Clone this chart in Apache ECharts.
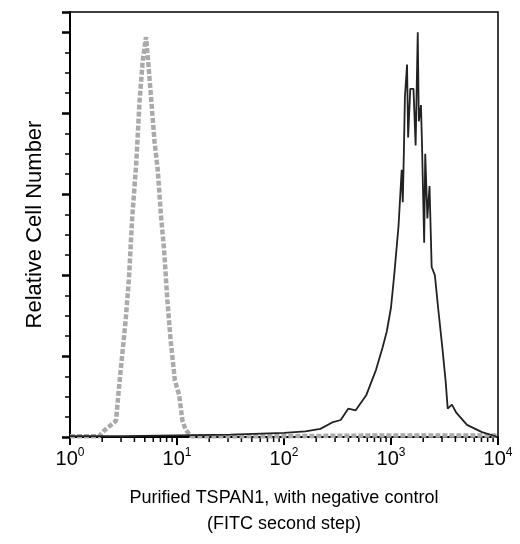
<!DOCTYPE html>
<html><head><meta charset="utf-8">
<script src="https://cdn.jsdelivr.net/npm/echarts@6/dist/echarts.min.js"></script>
<style>html,body{margin:0;padding:0;background:#fff}#c{width:520px;height:544px}</style>
</head><body><div id="c"></div>
<script>
// x values are log10 of fluorescence intensity
const xTickLabels = [0, 1, 2, 3, 4];
const controlX = [0, 0.27, 0.32, 0.43, 0.46, 0.52, 0.55, 0.58, 0.62, 0.65, 0.68, 0.71, 0.73, 0.76, 0.79, 0.82, 0.85, 0.88, 0.91, 0.94, 0.98, 1.02, 1.05, 1.08, 1.13, 1.3, 2, 3, 4];
const controlY = [0.01, 0.01, 0.08, 0.2, 0.64, 1.44, 1.94, 2.68, 3.4, 4.15, 4.65, 4.94, 4.65, 4.15, 3.65, 3.3, 2.74, 2.3, 1.69, 1.2, 0.7, 0.52, 0.21, 0.09, 0.01, 0.01, 0.01, 0.02, 0.02];
const sampleX = [0, 0.5, 1, 1.5, 2, 2.2, 2.34, 2.45, 2.53, 2.6, 2.67, 2.77, 2.86, 2.92, 2.96, 3.0, 3.03, 3.07, 3.1, 3.11, 3.12, 3.13, 3.15, 3.16, 3.18, 3.21, 3.23, 3.25, 3.26, 3.28, 3.29, 3.31, 3.32, 3.34, 3.36, 3.38, 3.41, 3.44, 3.48, 3.51, 3.53, 3.57, 3.61, 3.71, 3.85, 4];
const sampleY = [0.01, 0.01, 0.02, 0.03, 0.05, 0.07, 0.1, 0.18, 0.21, 0.35, 0.33, 0.52, 0.83, 1.1, 1.3, 1.6, 2.0, 2.6, 3.3, 2.9, 3.5, 4.2, 4.6, 3.7, 4.3, 4.3, 3.6, 5.0, 3.9, 4.1, 3.6, 2.4, 3.5, 2.7, 3.1, 2.1, 2.0, 1.6, 1.1, 0.7, 0.35, 0.4, 0.3, 0.15, 0.06, 0.0];
const minorX = [];
for (let n = 0; n < 4; n++) for (let k = 2; k <= 9; k++) minorX.push(n + Math.log10(k));

const chart = echarts.init(document.getElementById('c'));
const zip = (a, b) => a.map((v, i) => [v, b[i]]);
chart.setOption({
  animation: false,
  grid: {left: 70, right: 22, top: 12, bottom: 107, show: true, borderColor: '#000', borderWidth: 1.5},
  xAxis: {
    type: 'value', min: 0, max: 4, interval: 1,
    axisLine: {lineStyle: {color: '#000', width: 2}},
    axisTick: {length: 8, lineStyle: {color: '#000', width: 2}},
    splitLine: {show: false},
    axisLabel: {
      color: '#000', fontFamily: 'Liberation Sans', fontSize: 20, margin: 10,
      formatter: v => '10{s|' + v + '}',
      rich: {s: {fontSize: 12, verticalAlign: 'top', padding: [0, 0, 12, 0], color: '#000', fontFamily: 'Liberation Sans'}}
    },
    name: 'Purified TSPAN1, with negative control\n(FITC second step)',
    nameLocation: 'middle', nameGap: 48,
    nameTextStyle: {color: '#000', fontFamily: 'Liberation Sans', fontSize: 18, lineHeight: 26}
  },
  yAxis: {
    type: 'value', min: 0, max: 5.25, interval: 1,
    axisLine: {lineStyle: {color: '#000', width: 2}},
    axisTick: {length: 8, lineStyle: {color: '#000', width: 2.5}},
    minorTick: {show: true, splitNumber: 4, length: 5, lineStyle: {color: '#000', width: 1.5}},
    splitLine: {show: false},
    axisLabel: {show: false},
    name: 'Relative Cell Number', nameLocation: 'middle', nameGap: 24,
    nameTextStyle: {color: '#000', fontFamily: 'Liberation Sans', fontSize: 22}
  },
  series: [
    {type: 'line', data: zip(controlX, controlY), symbol: 'none',
     lineStyle: {color: '#aaa', width: 4.5, type: [5, 2]}},
    {type: 'line', data: zip(sampleX, sampleY), symbol: 'none',
     lineStyle: {color: '#222', width: 1.8}},
    {type: 'custom', clip: false, data: minorX.map(v => [v, 0]),
     renderItem: (params, api) => {
       const p = api.coord([api.value(0), 0]);
       return {type: 'line', shape: {x1: p[0], y1: p[1], x2: p[0], y2: p[1] + 5}, style: {stroke: '#000', lineWidth: 1.5}};
     }}
  ]
});
</script></body></html>
